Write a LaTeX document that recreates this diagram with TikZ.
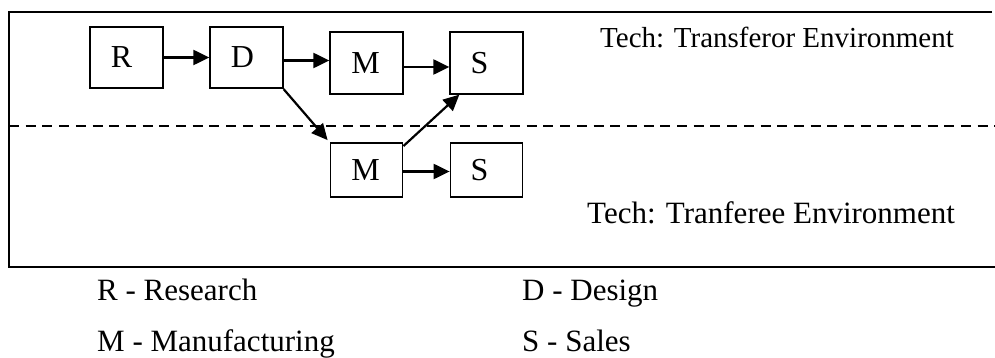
\documentclass[tikz,border=0pt]{standalone}
\usepackage{fontspec}
\setmainfont{Liberation Serif}
\usetikzlibrary{arrows.meta}
\begin{document}
\begin{tikzpicture}[x=1pt,y=-1pt,
  stage/.style={draw,line width=1.8pt,inner sep=0pt},
  tall/.style={stage,minimum width=72.5pt,minimum height=61.5pt},
  short/.style={stage,minimum width=72pt,minimum height=54pt},
  tag/.style={font=\fontsize{32}{36}\selectfont,xshift=#1},
  flow/.style={line width=2.2pt,-{Triangle[length=16pt,width=15pt]}},
  frameline/.style={line width=2.6pt},
  envtext/.style={anchor=base west,inner sep=0pt},
  legend/.style={anchor=base west,inner sep=0pt,font=\fontsize{31}{36}\selectfont}]
\useasboundingbox (0,0) rectangle (995,358);

% environment frame (open on the right) and the boundary between environments
\coordinate (ftr) at (992,12);
\coordinate (ftl) at (9,12);
\coordinate (fbl) at (9,267);
\coordinate (fbr) at (995,267);
\draw[frameline] (ftr) -- (ftl) -- (fbl) -- (fbr);
\coordinate (dl) at (9,125.7);
\coordinate (dr) at (995,125.7);
\draw[line width=1.8pt,dash pattern=on 10pt off 6.7pt] (dl) -- (dr);

% stages of the transferor
\node[tall,label={[tag=-5pt]center:R}] (R)  at (126.5,57.5) {};
\node[tall,label={[tag=-4pt]center:D}] (D)  at (246.5,57.5) {};
\node[tall,label={[tag=-1pt]center:M}] (M1) at (366.5,63) {};
\node[tall,label={[tag=-7pt]center:S}] (S1) at (486.5,63) {};
% stages of the transferee
\node[short,label={[tag=-1pt]center:M}] (M2) at (366.5,170) {};
\node[short,label={[tag=-7pt]center:S}] (S2) at (486.5,170) {};

\draw[flow] (R.east) -- (D.west);
\draw[flow] ([yshift=-3pt]D.east) -- ([yshift=-3pt]D.east -| M1.west);
\draw[flow] ([yshift=-4pt]M1.east) -- ([yshift=-4pt]M1.east -| S1.west);
\draw[flow] ([yshift=-1.5pt]M2.east) -- ([yshift=-1.5pt]M2.east -| S2.west);
\draw[flow] (D.south east) -- ([xshift=-2pt,yshift=2pt]M2.north west);
\draw[flow] ([yshift=-4pt]M2.north east) -- ([xshift=10pt]S1.south west);

% environment labels
\node[envtext,font=\fontsize{29}{34}\selectfont] (tor) at (600,48) {Tech: Transferor Environment};
\node[envtext,font=\fontsize{31}{36}\selectfont] (tee) at (587,223) {Tech: Tranferee Environment};

% legend
\node[legend] (lr) at (97,300)  {R - Research};
\node[legend] (ld) at (522,300) {D - Design};
\node[legend] (lm) at (97,351)  {M - Manufacturing};
\node[legend] (ls) at (522,351) {S - Sales};
\end{tikzpicture}
\end{document}
